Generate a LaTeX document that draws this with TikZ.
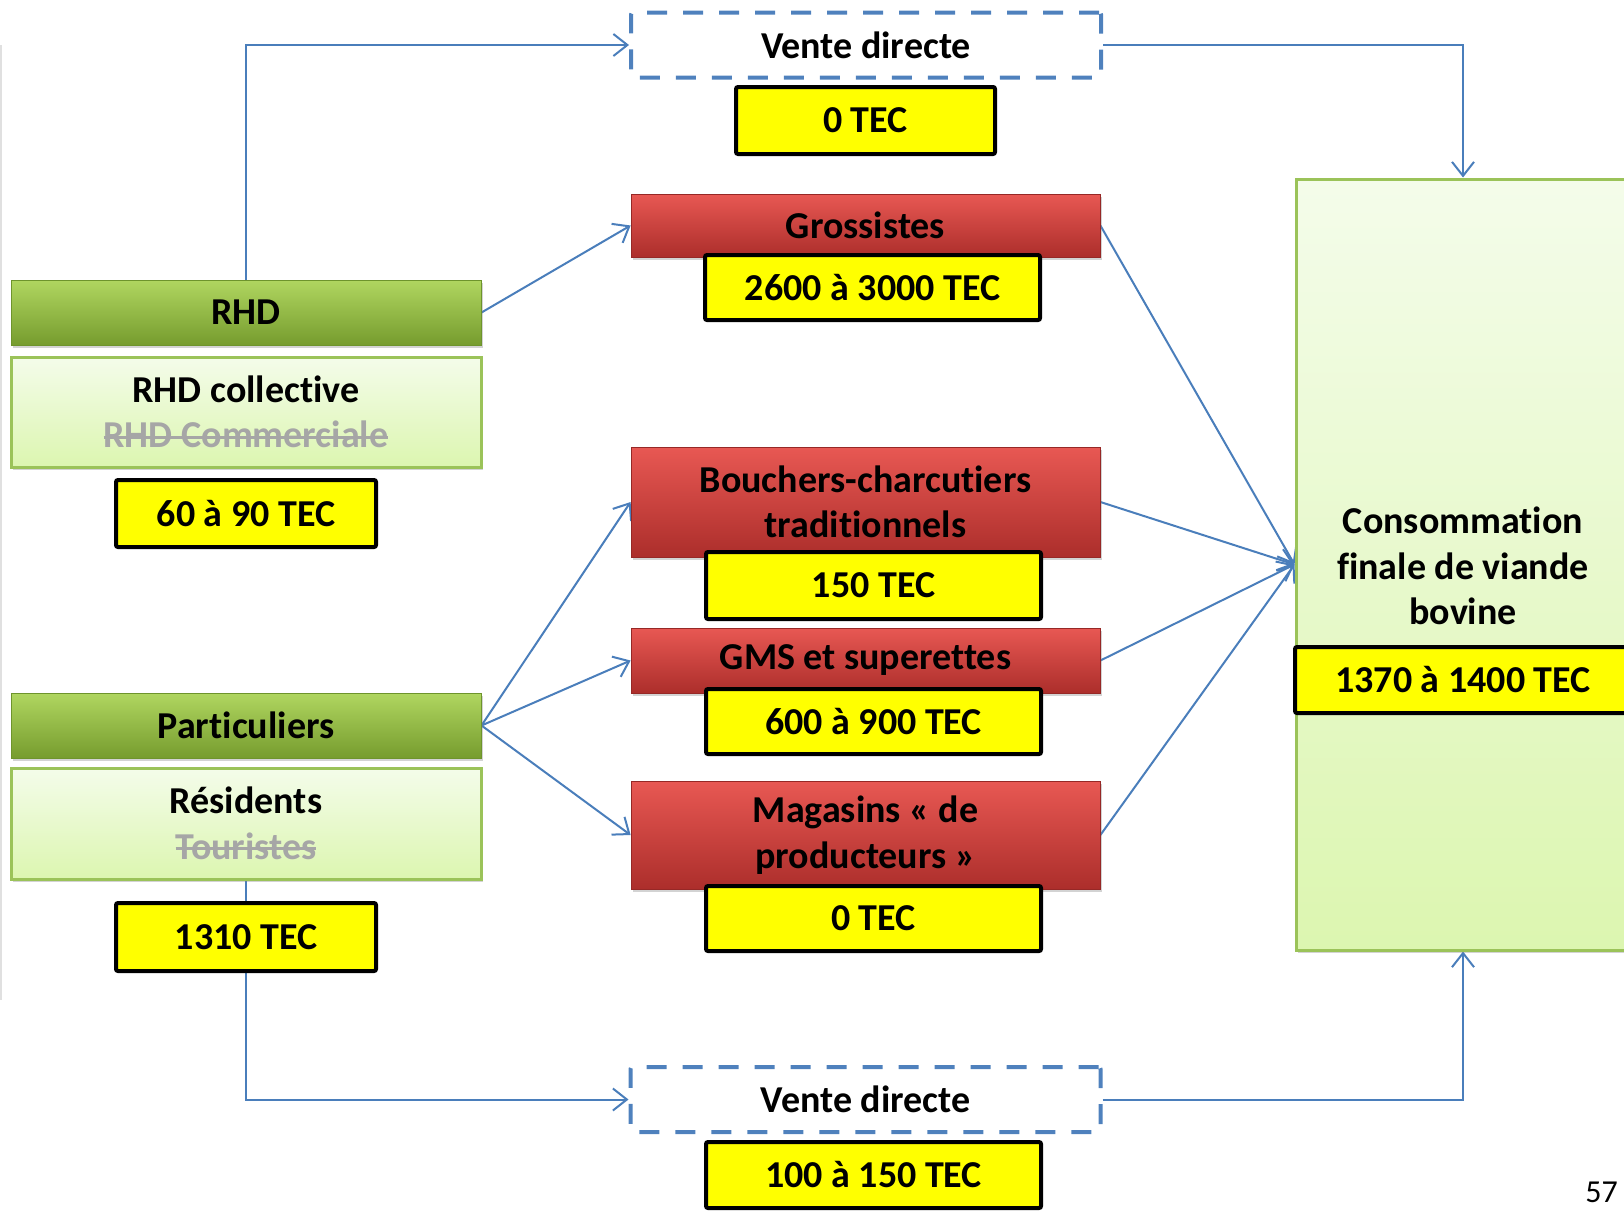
\documentclass[tikz,border=0pt]{standalone}
\usepackage{fontspec}
\setmainfont{Carlito}[Ligatures=NoCommon]
\usetikzlibrary{arrows.meta,shadows,backgrounds}

\definecolor{flowblue}{RGB}{74,126,187}
\definecolor{dashblue}{RGB}{79,129,189}
\definecolor{gbartop}{RGB}{176,214,96}
\definecolor{gbarbot}{RGB}{118,156,46}
\definecolor{gbardraw}{RGB}{110,148,44}
\definecolor{glighttop}{RGB}{244,252,234}
\definecolor{glightbot}{RGB}{220,246,176}
\definecolor{glightdraw}{RGB}{155,195,89}
\definecolor{redtop}{RGB}{232,88,83}
\definecolor{redbot}{RGB}{172,46,43}
\definecolor{reddraw}{RGB}{150,40,38}
\definecolor{strikegray}{RGB}{166,166,166}
\definecolor{tecyellow}{RGB}{255,255,0}

% struck-out grey line of text
\newsavebox\strkbox
\newcommand\strk[1]{\sbox\strkbox{\color{strikegray}#1}\rlap{\usebox\strkbox}\raisebox{0.24em}{\color{strikegray}\rule{\wd\strkbox}{3.2pt}}}

\tikzset{
  lbl/.style={font=\fontsize{38pt}{45.5pt}\selectfont\bfseries, align=center, inner sep=0pt},
  softshadow/.style={drop shadow={opacity=0.35, shadow xshift=2pt, shadow yshift=-3pt}},
  greenbar/.style={lbl, rectangle, minimum width=470pt, minimum height=65pt,
    top color=gbartop, bottom color=gbarbot, draw=gbardraw, line width=1pt, softshadow},
  greenbox/.style={lbl, rectangle, minimum width=470pt,
    top color=glighttop, bottom color=glightbot, draw=glightdraw, line width=3pt, softshadow},
  redbar/.style={lbl, rectangle, minimum width=469pt,
    top color=redtop, bottom color=redbot, draw=reddraw, line width=0.8pt, softshadow},
  tec/.style={lbl, rectangle, fill=tecyellow, draw=black, line width=4pt, rounded corners=2pt},
  vdbox/.style={lbl, rectangle, minimum width=470pt, minimum height=65pt,
    draw=dashblue, line width=4pt, dash pattern=on 20pt off 16pt, rounded corners=2pt},
  flow/.style={draw=flowblue, line width=2pt, -{Straight Barb[length=14pt,width=22pt,line width=2pt]}},
}

\begin{document}
\begin{tikzpicture}[x=1pt,y=-1pt]
\useasboundingbox (0,0) rectangle (1624,1210);
\clip (0,0) rectangle (1624,1210);

% faint page edge at the far left
\draw[black!12, line width=2pt] (1,45) -- (1,1000);

% consumers (left column)
\node[greenbar] (rhd) at (246,312.5) {RHD};
\node[greenbox, minimum height=110pt] (rhdc) at (246,412) {RHD collective\\\strk{RHD Commerciale}};
\node[tec, minimum width=260pt, minimum height=67pt] (t60) at (246,513.5) {60 à 90 TEC};

\node[greenbar] (part) at (246,725.5) {Particuliers};
\node[greenbox, minimum height=111pt] (res) at (246,823.5) {Résidents\\\strk{Touristes}};
\node[tec, minimum width=260pt, minimum height=68pt] (t1310) at (246,937) {1310 TEC};

% distribution channels (middle column)
\node[vdbox] (vd1) at (866,45) {Vente directe};
\node[tec, minimum width=259pt, minimum height=67pt] (t0a) at (865.5,120.5) {0 TEC};

\node[redbar, minimum height=63pt] (gro) at (865.5,225.5) {Grossistes};
\node[tec, minimum width=335pt, minimum height=65pt] (t2600) at (872.5,287.5) {2600 à 3000 TEC};

\node[redbar, minimum height=110pt] (bou) at (865.5,502) {Bouchers-charcutiers\\traditionnels};
\node[tec, minimum width=335pt, minimum height=67pt] (t150) at (873.5,585.5) {150 TEC};

\node[redbar, minimum height=65pt] (gms) at (865.5,660.5) {GMS et superettes};
\node[tec, minimum width=335pt, minimum height=65pt] (t600) at (873.5,721.5) {600 à 900 TEC};

\node[redbar, minimum height=108pt] (mag) at (865.5,835) {Magasins « de\\producteurs »};
\node[tec, minimum width=335pt, minimum height=65pt] (t0b) at (873.5,918.5) {0 TEC};

\node[vdbox] (vd2) at (865.5,1099.5) {Vente directe};
\node[tec, minimum width=335pt, minimum height=66pt] (t100) at (873.5,1175) {100 à 150 TEC};

% final consumption (right column)
\node[greenbox, minimum width=334pt, minimum height=771pt] (conso) at (1463,564.5) {};
\node[lbl] (consotxt) at (1463,566) {Consommation\\finale de viande\\bovine};
\node[tec, minimum width=336pt, minimum height=66pt] (t1370) at (1463,680) {1370 à 1400 TEC};

% page number
\node[font=\fontsize{32pt}{36pt}\selectfont, anchor=north east, inner sep=0pt] (pgno) at (1618,1182) {57};

% flows
\begin{scope}[on background layer]
  \draw[flow] (rhd.north) |- (vd1.west);
  \draw[flow] (vd1.east) -| (conso.north);
  \draw[flow] (rhd.east) -- (gro.west);
  \draw[flow] (part.east) -- (bou.west);
  \draw[flow] (part.east) -- (gms.west);
  \draw[flow] (part.east) -- (mag.west);
  \draw[flow] (gro.east) -- (conso.west);
  \draw[flow] (bou.east) -- (conso.west);
  \draw[flow] (gms.east) -- (conso.west);
  \draw[flow] (mag.east) -- (conso.west);
  \draw[flow] (res.south) |- (vd2.west);
  \draw[flow] (vd2.east) -| (conso.south);
\end{scope}
\end{tikzpicture}
\end{document}
